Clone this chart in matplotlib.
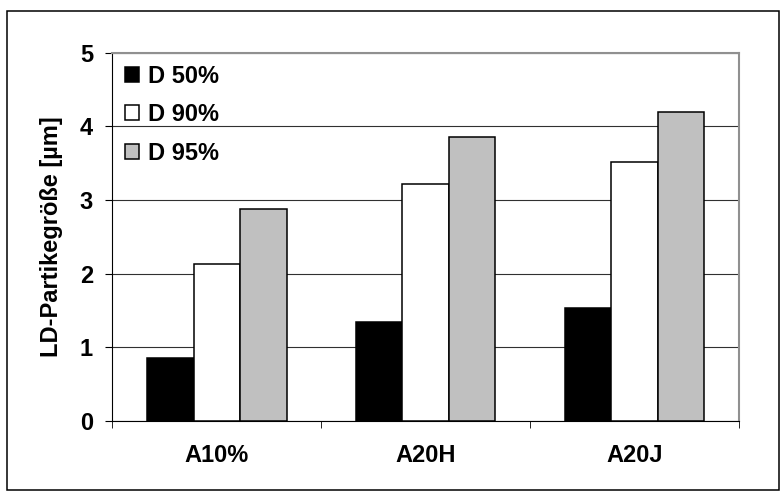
# -*- coding: utf-8 -*-
import matplotlib
matplotlib.use('Agg')
import matplotlib.pyplot as plt
import numpy as np
from matplotlib.patches import Rectangle

plt.rcParams['font.family'] = ['Liberation Sans', 'DejaVu Sans']
plt.rcParams['font.weight'] = 'bold'

categories = ['A10%', 'A20H', 'A20J']
series_names = ['D 50%', 'D 90%', 'D 95%']
d50 = [0.85, 1.34, 1.53]
d90 = [2.13, 3.22, 3.51]
d95 = [2.88, 3.86, 4.19]
colors = ['#000000', '#ffffff', '#c0c0c0']

fs = 17

fig = plt.figure(figsize=(7.8, 4.98), dpi=100)
# aeusserer Rahmen
fig.patches.append(Rectangle((0.009, 0.016), 0.99, 0.962, transform=fig.transFigure,
                             fill=False, edgecolor='black', linewidth=1.1))
ax = fig.add_axes([0.1442, 0.1552, 0.803, 0.739])

x = np.arange(len(categories))
w = 0.223
for i, (vals, name) in enumerate(zip([d50, d90, d95], series_names)):
    ax.bar(x + (i - 1) * w, vals, width=w, color=colors[i], edgecolor='black',
           linewidth=1.1, label=name, zorder=3)

ax.set_xlim(-0.5, 2.5)
ax.set_ylim(0, 5)
ax.set_yticks(range(6))
ax.yaxis.grid(True, color='#303030', linewidth=0.8, zorder=0)
ax.set_xticks(x)
ax.set_xticklabels(categories, fontsize=fs, fontweight='bold')
ax.set_xticks([-0.5, 0.5, 1.5, 2.5], minor=True)
ax.tick_params(axis='x', which='major', length=0, pad=17)
ax.tick_params(axis='x', which='minor', length=5, color='black')
ax.tick_params(axis='y', labelsize=fs, length=5, pad=9)
for lab in ax.get_yticklabels():
    lab.set_fontweight('bold')
ax.set_ylabel('LD-Partikegröße [µm]', fontsize=fs, fontweight='bold', labelpad=12)

for s in ['top', 'right']:
    ax.spines[s].set_color('#909090')
    ax.spines[s].set_linewidth(1.5)
for s in ['left', 'bottom']:
    ax.spines[s].set_color('black')

leg = ax.legend(loc='upper left', bbox_to_anchor=(0.02, 0.967), frameon=False,
                fontsize=fs, handlelength=0.6, handleheight=0.6, handletextpad=0.38,
                labelspacing=0.65, borderpad=0, borderaxespad=0)
for t in leg.get_texts():
    t.set_fontweight('bold')

fig.savefig('out.png', dpi=100)
